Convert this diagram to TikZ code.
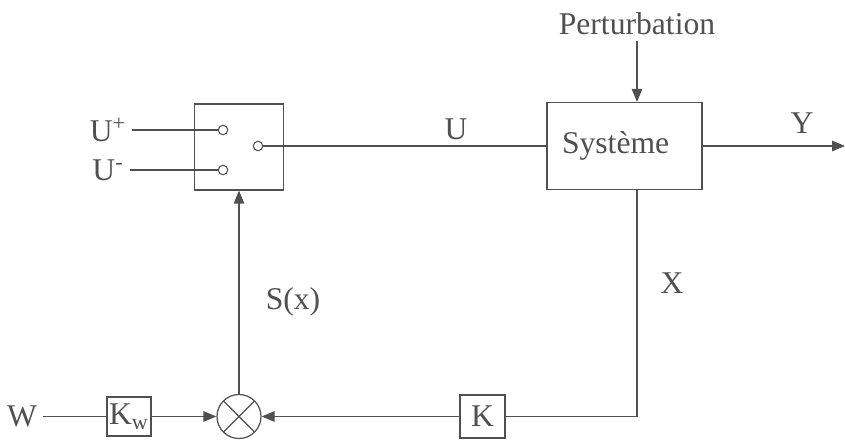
\documentclass[tikz,border=0pt]{standalone}
\usepackage{fontspec}
\setmainfont{Liberation Serif}
\usetikzlibrary{arrows.meta,positioning}
\definecolor{ink}{RGB}{80,80,80}

\begin{document}
\begin{tikzpicture}[
    every node/.style={text=ink,font=\fontsize{18}{20}\selectfont},
    box/.style={draw=ink,line width=0.7pt,inner sep=0pt},
    contact/.style={circle,draw=ink,fill=white,line width=0.6pt,inner sep=0pt,minimum size=0.19cm},
    sum/.style={circle,draw=ink,line width=0.7pt,minimum size=0.88cm,
        path picture={\draw[ink,line width=0.7pt] (path picture bounding box.north west) -- (path picture bounding box.south east)
            (path picture bounding box.north east) -- (path picture bounding box.south west);}},
    line/.style={draw=ink,line width=0.7pt},
    arr/.style={line,-{Triangle[length=2.6mm,width=2.1mm]}}
]
\useasboundingbox (0,0) rectangle (16.9,8.78);
\node[box,minimum width=1.78cm,minimum height=1.72cm] (sw) at (4.78,5.84) {};
\node[box,inner xsep=0.3cm,text width=2.5cm,align=left,minimum height=1.74cm] (sys) at (12.49,5.86) {Système};
\node (pert) at (12.74,8.3) {Perturbation};
\node[contact] (cp) at (4.46,6.18) {};
\node[contact] (cm) at (4.46,5.38) {};
\node[contact] (co) at (5.16,5.86) {};
\node (up) at (2.16,6.18) {U\textsuperscript{+}};
\node (um) at (2.16,5.38) {U\textsuperscript{-}};
\node[sum] (s) at (4.78,0.45) {};
\node[box,minimum width=0.88cm,minimum height=0.78cm] (kw) at (2.58,0.45) {K\textsubscript{w}};
\node (w) at (0.44,0.45) {W};
\node[box,minimum width=0.9cm,minimum height=0.86cm] (k) at (9.65,0.45) {K};
\coordinate (out) at (16.9,5.86);
\coordinate (fb) at (12.74,0.45);
\node (lu) at (9.12,6.2) {U};
\node (ly) at (16.04,6.32) {Y};
\node (lx) at (13.44,3.12) {X};
\node (ls) at (5.86,2.74) {S(x)};
\draw[line] (up) -- (cp);
\draw[line] (um) -- (cm);
\draw[line] (co) -- (sys);
\draw[arr] (pert) -- (sys.north -| pert);
\draw[arr] (sys) -- (out);
\draw[line] (sys.south -| fb) -- (fb) -- (k);
\draw[arr] (k) -- (s);
\draw[line] (w) -- (kw);
\draw[arr] (kw) -- (s);
\draw[arr] (s) -- (sw);
\end{tikzpicture}
\end{document}
